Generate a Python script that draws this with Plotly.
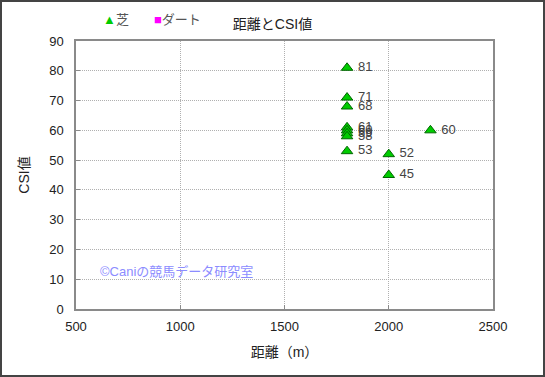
import plotly.graph_objects as go

turf_dist = [1800, 1800, 1800, 1800, 1800, 1800, 1800, 1800, 2000, 2000, 2200]
turf_csi = [81, 71, 68, 61, 60, 59, 58, 53, 52, 45, 60]
dirt_dist = []
dirt_csi = []

x_ticks = [500, 1000, 1500, 2000, 2500]
y_ticks = [0, 10, 20, 30, 40, 50, 60, 70, 80, 90]

W, H = 545, 377
L, R, T, B = 76, 52, 41, 68
pw, ph = W - L - R, H - T - B

font_family = "Liberation Sans, Noto Sans CJK JP, sans-serif"

fig = go.Figure()
fig.add_trace(go.Scatter(
    x=turf_dist, y=turf_csi, mode="markers+text", name="芝",
    text=[" " + str(v) for v in turf_csi], textposition="middle right",
    textfont=dict(size=13, color="#444444"),
    marker=dict(symbol="triangle-up", size=10, color="#00cc00",
                line=dict(color="#006600", width=1)),
))
fig.add_trace(go.Scatter(
    x=dirt_dist, y=dirt_csi, mode="markers", name="ダート",
    marker=dict(symbol="square", size=9, color="#ff00ff"),
))

grid = dict(showgrid=True, gridcolor="#b0b0b0", griddash="1px,1px", gridwidth=1,
            showline=True, linecolor="#8a8a8a", linewidth=1.5, mirror=True,
            ticks="inside", ticklen=4, tickcolor="#8a8a8a", zeroline=False,
            tickfont=dict(size=13, color="#222222"))

fig.update_layout(
    width=W, height=H,
    margin=dict(l=L, r=R, t=T, b=B),
    paper_bgcolor="white", plot_bgcolor="white",
    font=dict(family=font_family, size=12, color="#222222"),
    title=dict(text="距離とCSI値", x=0.5, xanchor="center", y=1 - 24 / H,
               yanchor="middle", font=dict(size=14, color="#222222")),
    showlegend=False,
    xaxis=dict(range=[500, 2500], tickvals=x_ticks, ticklabelstandoff=5,
               title=dict(text="距離（m）", standoff=14, font=dict(size=14)),
               **grid),
    yaxis=dict(range=[0, 90], tickvals=y_ticks, ticklabelstandoff=8,
               title=dict(text="CSI値", standoff=16, font=dict(size=14)),
               **grid),
    annotations=[
        dict(text="©Caniの競馬データ研究室", xref="paper", yref="paper",
             x=(98 - L) / pw, y=(309 - 271) / ph, xanchor="left", yanchor="middle",
             showarrow=False, font=dict(size=13, color="#8c8cff")),
        dict(text='<span style="color:#00cc00">▲</span>' + fig.data[0].name,
             xref="paper", yref="paper", x=(101 - L) / pw, y=1 + (T - 20) / ph,
             xanchor="left", yanchor="middle", showarrow=False,
             font=dict(size=13, color="#555555")),
        dict(text='<span style="color:#ff00ff">■</span>' + fig.data[1].name,
             xref="paper", yref="paper", x=(152 - L) / pw, y=1 + (T - 20) / ph,
             xanchor="left", yanchor="middle", showarrow=False,
             font=dict(size=13, color="#555555")),
    ],
    shapes=[dict(
        type="rect", xref="paper", yref="paper",
        x0=-(L - 1) / pw, x1=1 + (R - 1) / pw,
        y0=-(B - 1) / ph, y1=1 + (T - 1) / ph,
        line=dict(color="#444444", width=2), layer="above",
    )],
)

fig.write_html("out.html", config={"displayModeBar": False},
               post_script="document.body.style.margin='0';")
